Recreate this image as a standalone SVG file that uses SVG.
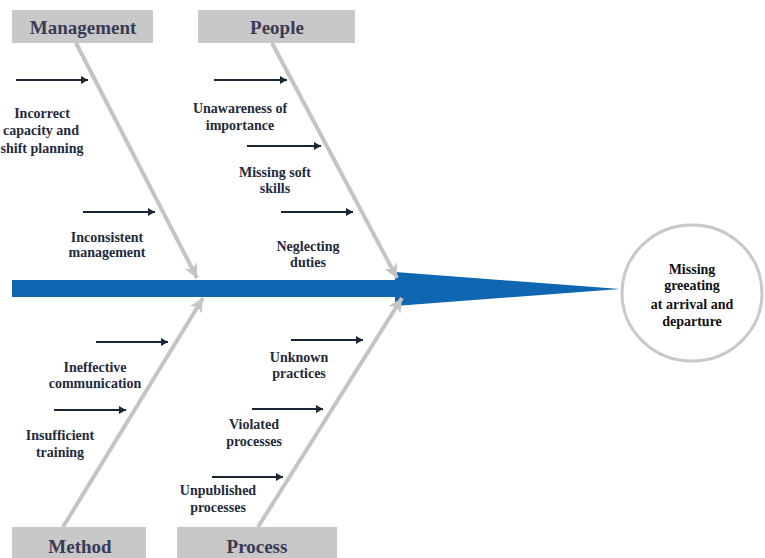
<svg xmlns="http://www.w3.org/2000/svg" width="765" height="558" viewBox="0 0 765 558">
<style>
.box{fill:#c8c8c8}
.hdr{font-family:"Liberation Serif","Times New Roman",serif;font-weight:bold;font-size:19px;fill:#3a3a55;text-anchor:middle}
.lbl{font-family:"Liberation Serif","Times New Roman",serif;font-weight:bold;font-size:14px;fill:#1f2b3c;text-anchor:middle}
.eff{font-family:"Liberation Serif","Times New Roman",serif;font-weight:bold;font-size:14px;fill:#111;text-anchor:middle}
.bone{stroke:#c4c4c4;stroke-width:4;fill:none;marker-end:url(#ga)}
.sub{stroke:#1a2738;stroke-width:2;fill:none;marker-end:url(#da)}
</style>
<defs>
<marker id="ga" markerUnits="userSpaceOnUse" markerWidth="16" markerHeight="16" viewBox="0 0 16 16" refX="14" refY="8" orient="auto">
<path d="M0,1 L14,8 L0,15 L4,8 Z" fill="#c4c4c4"/>
</marker>
<marker id="da" markerUnits="userSpaceOnUse" markerWidth="8" markerHeight="8" viewBox="0 0 8 8" refX="7" refY="4" orient="auto">
<path d="M0,0 L7,4 L0,8 Z" fill="#1a2738"/>
</marker>
</defs>
<rect width="765" height="558" fill="#fff"/>

<g id="spine">
<rect x="12" y="280" width="388" height="17" fill="#0f67b1"/>
<polygon points="395,272 620,289 395,306" fill="#0f67b1"/>
</g>

<g id="connectors">
<line class="bone" x1="76" y1="43" x2="197" y2="278"/>
<line class="bone" x1="272" y1="43" x2="397" y2="278"/>
<line class="bone" x1="63" y1="527" x2="203" y2="298"/>
<line class="bone" x1="258" y1="527" x2="402" y2="298"/>
<line class="sub" x1="16" y1="80" x2="88" y2="80"/>
<line class="sub" x1="83" y1="212" x2="155" y2="212"/>
<line class="sub" x1="214" y1="80" x2="287" y2="80"/>
<line class="sub" x1="247" y1="146" x2="321" y2="146"/>
<line class="sub" x1="281" y1="212" x2="353" y2="212"/>
<line class="sub" x1="96" y1="342" x2="168" y2="342"/>
<line class="sub" x1="54" y1="410" x2="126" y2="410"/>
<line class="sub" x1="291" y1="340" x2="363" y2="340"/>
<line class="sub" x1="252" y1="409" x2="323" y2="409"/>
<line class="sub" x1="212" y1="477" x2="283" y2="477"/>
</g>

<g id="management">
<rect class="box" x="12" y="10" width="141" height="33"/>
<text class="hdr" x="83" y="34">Management</text>
</g>
<g id="people">
<rect class="box" x="198" y="10" width="157" height="33"/>
<text class="hdr" x="277" y="34">People</text>
</g>
<g id="method">
<rect class="box" x="12" y="527" width="134" height="31"/>
<text class="hdr" x="80" y="553">Method</text>
</g>
<g id="process">
<rect class="box" x="177" y="527" width="160" height="31"/>
<text class="hdr" x="257" y="553">Process</text>
</g>

<g id="effect">
<ellipse cx="692" cy="293" rx="70" ry="68" fill="#fff" stroke="#c8c8c8" stroke-width="3"/>
<text class="eff" x="692" y="274">Missing</text>
<text class="eff" x="692" y="290">greeating</text>
<text class="eff" x="692" y="309">at arrival and</text>
<text class="eff" x="692" y="326">departure</text>
</g>

<g id="cause-incorrect-capacity">
<text class="lbl" x="42" y="118">Incorrect</text>
<text class="lbl" x="41" y="135">capacity and</text>
<text class="lbl" x="42" y="153">shift planning</text>
</g>
<g id="cause-inconsistent-management">
<text class="lbl" x="107" y="242">Inconsistent</text>
<text class="lbl" x="107" y="257">management</text>
</g>
<g id="cause-unawareness">
<text class="lbl" x="240" y="113">Unawareness of</text>
<text class="lbl" x="240" y="130">importance</text>
</g>
<g id="cause-soft-skills">
<text class="lbl" x="275" y="177">Missing soft</text>
<text class="lbl" x="275" y="193">skills</text>
</g>
<g id="cause-neglecting">
<text class="lbl" x="308" y="251">Neglecting</text>
<text class="lbl" x="308" y="267">duties</text>
</g>
<g id="cause-ineffective-communication">
<text class="lbl" x="95" y="372">Ineffective</text>
<text class="lbl" x="95" y="388">communication</text>
</g>
<g id="cause-insufficient-training">
<text class="lbl" x="60" y="440">Insufficient</text>
<text class="lbl" x="60" y="457">training</text>
</g>
<g id="cause-unknown-practices">
<text class="lbl" x="299" y="362">Unknown</text>
<text class="lbl" x="299" y="378">practices</text>
</g>
<g id="cause-violated-processes">
<text class="lbl" x="254" y="429">Violated</text>
<text class="lbl" x="254" y="446">processes</text>
</g>
<g id="cause-unpublished-processes">
<text class="lbl" x="218" y="495">Unpublished</text>
<text class="lbl" x="218" y="512">processes</text>
</g>
</svg>
